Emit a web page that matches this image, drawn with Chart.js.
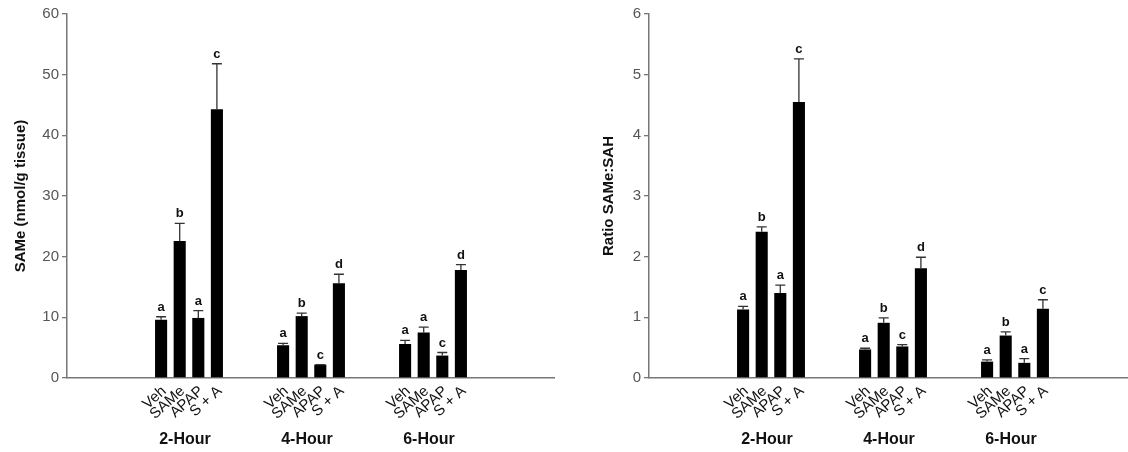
<!DOCTYPE html>
<html>
<head>
<meta charset="utf-8">
<script src="https://cdn.jsdelivr.net/npm/chart.js@4/dist/chart.umd.min.js"></script>
<style>
    html, body { margin: 0; padding: 0; background: #fff; width: 1128px; height: 452px; overflow: hidden; }
    .panel { position: absolute; top: 0; height: 452px; }
    #left { left: 0; width: 555px; }
    #right { left: 564px; width: 573px; }
</style>
</head>
<body>
<div class="panel" id="left"><canvas id="chartLeft" width="555" height="452"></canvas></div>
<div class="panel" id="right"><canvas id="chartRight" width="573" height="452"></canvas></div>
<script>
const groups = ["2-Hour", "4-Hour", "6-Hour"];
const treatments = ["Veh", "SAMe", "APAP", "S + A"];

// SAMe (nmol/g tissue), mean and upper error per group
const sameVeh = [9.6, 5.4, 5.6];
const sameVehErr = [0.5, 0.3, 0.6];
const sameSame = [22.6, 10.2, 7.5];
const sameSameErr = [2.9, 0.5, 0.9];
const sameApap = [9.9, 2.2, 3.7];
const sameApapErr = [1.2, 0, 0.5];
const sameSA = [44.3, 15.6, 17.8];
const sameSAErr = [7.5, 1.5, 0.9];
const sameLetters = [["a", "a", "a"], ["b", "b", "a"], ["a", "c", "c"], ["c", "d", "d"]];

// Ratio SAMe:SAH
const ratioVeh = [1.13, 0.47, 0.27];
const ratioVehErr = [0.05, 0.02, 0.03];
const ratioSame = [2.41, 0.91, 0.70];
const ratioSameErr = [0.08, 0.08, 0.06];
const ratioApap = [1.40, 0.52, 0.25];
const ratioApapErr = [0.13, 0.03, 0.07];
const ratioSA = [4.55, 1.81, 1.14];
const ratioSAErr = [0.71, 0.18, 0.15];
const ratioLetters = [["a", "a", "a"], ["b", "b", "b"], ["a", "c", "a"], ["c", "d", "c"]];

const FONT = "'Liberation Sans', Arial, sans-serif";

// empty slot at both ends so groups sit at 1/4, 2/4, 3/4 of the axis
function pad(arr) {
    return [null, ...arr, null];
}

const barExtras = {
    id: "barExtras",
    afterDatasetsDraw(chart) {
        const ctx = chart.ctx;
        const yScale = chart.scales.y;
        const xScale = chart.scales.x;
        chart.data.datasets.forEach((ds, di) => {
            const meta = chart.getDatasetMeta(di);
            meta.data.forEach((bar, i) => {
                const v = ds.data[i];
                if (v === null || v === undefined) return;
                const errTop = yScale.getPixelForValue(v + ds.errors[i]);
                ctx.save();
                // error bar (upper only)
                ctx.strokeStyle = "#333";
                ctx.lineWidth = 1.3;
                ctx.beginPath();
                ctx.moveTo(bar.x, bar.y);
                ctx.lineTo(bar.x, errTop);
                ctx.moveTo(bar.x - 5, errTop);
                ctx.lineTo(bar.x + 5, errTop);
                ctx.stroke();
                // significance letter
                ctx.fillStyle = "#111";
                ctx.font = "bold 13px " + FONT;
                ctx.textAlign = "center";
                ctx.textBaseline = "bottom";
                ctx.fillText(ds.letters[i], bar.x, errTop - 3);
                // rotated treatment name
                ctx.translate(bar.x + 3, xScale.top + 11);
                ctx.rotate(-42 * Math.PI / 180);
                ctx.font = "15px " + FONT;
                ctx.fillStyle = "#111";
                ctx.textAlign = "right";
                ctx.textBaseline = "middle";
                ctx.fillText(ds.label, 0, 0);
                ctx.restore();
            });
        });
    }
};

function buildChart(canvasId, cfg) {
    const datasets = cfg.values.map((vals, k) => ({
        label: treatments[k],
        data: pad(vals),
        errors: pad(cfg.errors[k]),
        letters: pad(cfg.letters[k]),
        backgroundColor: "#000",
        borderWidth: 0,
        categoryPercentage: 0.61,
        barPercentage: 0.65
    }));

    return new Chart(document.getElementById(canvasId), {
        type: "bar",
        data: { labels: ["", ...groups, ""], datasets },
        options: {
            responsive: false,
            animation: false,
            layout: { padding: { top: 14, left: 0, right: 0, bottom: 0 } },
            plugins: {
                legend: { display: false },
                tooltip: { enabled: false }
            },
            scales: {
                x: {
                    offset: false,
                    grid: { display: false },
                    border: { display: true, color: "#777", width: 1.5 },
                    ticks: {
                        padding: 44,
                        labelOffset: -4,
                        maxRotation: 0,
                        autoSkip: false,
                        color: "#111",
                        font: { family: FONT, size: 16, weight: "bold" }
                    },
                    afterFit: s => {
                        s.height = 74;
                        s.paddingLeft = 0;
                        s.paddingRight = 0;
                    }
                },
                y: {
                    min: 0,
                    max: cfg.max,
                    grid: { drawOnChartArea: false, drawTicks: true, tickLength: 5, color: "#777", lineWidth: 1.3 },
                    border: { display: true, color: "#777", width: 1.5 },
                    ticks: {
                        stepSize: cfg.step,
                        padding: 3,
                        color: "#555",
                        font: { family: FONT, size: 15 }
                    },
                    title: {
                        display: true,
                        text: cfg.title,
                        color: "#111",
                        padding: { top: cfg.titlePad, bottom: 0 },
                        font: { family: FONT, size: 15, weight: "bold" }
                    },
                    afterFit: s => { s.width = cfg.axisWidth; }
                }
            }
        },
        plugins: [barExtras]
    });
}

buildChart("chartLeft", {
    values: [sameVeh, sameSame, sameApap, sameSA],
    errors: [sameVehErr, sameSameErr, sameApapErr, sameSAErr],
    letters: sameLetters,
    max: 60,
    step: 10,
    title: "SAMe (nmol/g tissue)",
    titlePad: 12,
    axisWidth: 67
});

buildChart("chartRight", {
    values: [ratioVeh, ratioSame, ratioApap, ratioSA],
    errors: [ratioVehErr, ratioSameErr, ratioApapErr, ratioSAErr],
    letters: ratioLetters,
    max: 6,
    step: 1,
    title: "Ratio SAMe:SAH",
    titlePad: 36,
    axisWidth: 85
});
</script>
</body>
</html>
